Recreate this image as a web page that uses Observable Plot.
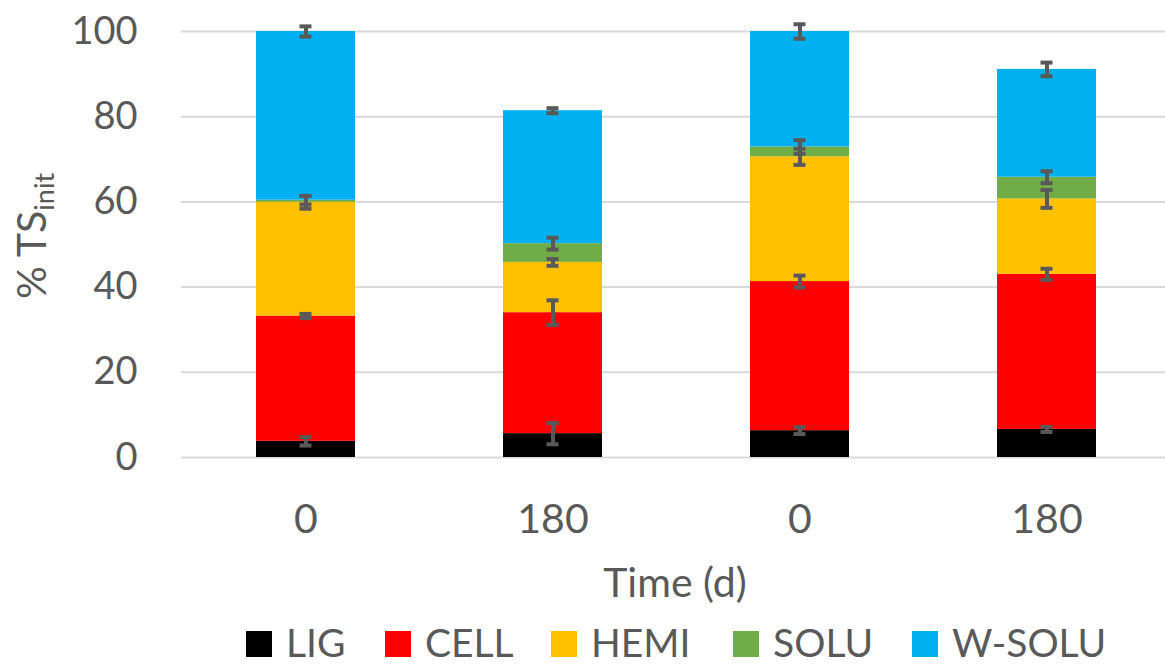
<!DOCTYPE html>
<html>
<head>
<meta charset="utf-8">
<script src="https://cdn.jsdelivr.net/npm/d3@7"></script>
<script src="https://cdn.jsdelivr.net/npm/@observablehq/plot@0.6"></script>
<style>
  html, body { margin: 0; padding: 0; background: #fff; overflow: hidden; }
  body { font-family: Lato, "Open Sans", sans-serif; color: #595959; }
  #wrap { position: relative; width: 1165px; height: 666px; }
  #chart svg { display: block; overflow: visible; }
  #chart svg [aria-label^="x-axis"] { font-size: 41px; }
  #xtitle { position: absolute; left: 0; width: 1165px; top: 561px; padding-left: 185px; box-sizing: border-box;
            text-align: center; font-size: 41px; line-height: 41px; color: #595959; }
  #legend { position: absolute; left: 0; top: 0; width: 1165px; height: 666px; }
  #legend .sw { position: absolute; top: 631px; width: 26px; height: 26px; }
  #legend .lbl { position: absolute; top: 623px; font-size: 39px; line-height: 39px; white-space: nowrap; }
</style>
</head>
<body>
<div id="wrap">
  <div id="chart"></div>
  <div id="xtitle"></div>
  <div id="legend"></div>
</div>
<script>
// ---- data ----
const barIds = ["A-0", "A-180", "B-0", "B-180"];
const timeLabels = ["0", "180", "0", "180"];
const components = ["LIG", "CELL", "HEMI", "SOLU", "W-SOLU"];
const colors = ["#000000", "#ff0000", "#ffc000", "#70ad47", "#00b0f0"];

const LIG   = [3.8, 5.6, 6.3, 6.6];
const CELL  = [29.4, 28.4, 35.0, 36.4];
const HEMI  = [26.7, 11.8, 29.3, 17.7];
const SOLU  = [0.5, 4.4, 2.3, 5.1];
const WSOLU = [39.6, 31.2, 27.1, 25.3];

const LIG_sd   = [1.0, 2.5, 0.8, 0.6];
const CELL_sd  = [0.5, 2.9, 1.4, 1.3];
const HEMI_sd  = [1.5, 0.8, 1.9, 2.1];
const SOLU_sd  = [1.0, 1.4, 1.6, 1.4];
const WSOLU_sd = [1.2, 0.6, 1.7, 1.6];

const yTicks = [0, 20, 40, 60, 80, 100];
const yTitle = "% TS";
const yTitleSub = "init";
const xTitle = "Time (d)";

// ---- build tables ----
const series = [LIG, CELL, HEMI, SOLU, WSOLU];
const sds = [LIG_sd, CELL_sd, HEMI_sd, SOLU_sd, WSOLU_sd];
const rows = [];
const errs = [];
barIds.forEach((b, i) => {
  let cum = 0;
  components.forEach((c, j) => {
    const v = series[j][i];
    rows.push({bar: b, comp: c, value: v});
    cum += v;
    errs.push({bar: b, comp: c, lo: cum - sds[j][i], hi: cum + sds[j][i]});
  });
});

const errColor = "#595959";

const chart = Plot.plot({
  width: 1165,
  height: 550,
  marginTop: 31,
  marginBottom: 93,
  marginLeft: 181,
  marginRight: -5,
  style: {fontFamily: "Lato, 'Open Sans', sans-serif", fontSize: "38px", color: "#595959", background: "#fff"},
  x: {domain: barIds, paddingInner: 0.6, paddingOuter: 0.3, tickSize: 0, tickPadding: 46,
      tickFormat: d => timeLabels[barIds.indexOf(d)], label: null},
  y: {domain: [0, 100], ticks: yTicks, tickSize: 0, tickPadding: 44, label: null},
  color: {domain: components, range: colors},
  marks: [
    Plot.ruleY(yTicks, {stroke: "#d9d9d9", strokeWidth: 2}),
    Plot.barY(rows, {x: "bar", y: "value", fill: "comp", order: components}),
    Plot.ruleX(errs, {x: "bar", y1: "lo", y2: "hi", stroke: errColor, strokeWidth: 4}),
    Plot.tickY(errs, {x: "bar", y: "lo", stroke: errColor, strokeWidth: 4, insetLeft: 43.5, insetRight: 43.5}),
    Plot.tickY(errs, {x: "bar", y: "hi", stroke: errColor, strokeWidth: 4, insetLeft: 43.5, insetRight: 43.5})
  ]
});
document.getElementById("chart").appendChild(chart);

// y-axis title with subscript
const svg = d3.select(chart);
const t = svg.append("text")
  .attr("transform", "translate(46,236) rotate(-90)")
  .attr("text-anchor", "middle")
  .attr("fill", "#595959")
  .style("font-size", "41px");
t.append("tspan").text(yTitle);
t.append("tspan").attr("dy", "0.3em").style("font-size", "27px").text(yTitleSub);

document.getElementById("xtitle").textContent = xTitle;

// legend (swatch left edges matched to the reference layout)
const legendX = [246, 385, 551, 733, 912];
const lg = d3.select("#legend");
components.forEach((c, j) => {
  lg.append("div").attr("class", "sw").style("left", legendX[j] + "px").style("background", colors[j]);
  lg.append("div").attr("class", "lbl").style("left", (legendX[j] + 40) + "px").text(c);
});
</script>
</body>
</html>
